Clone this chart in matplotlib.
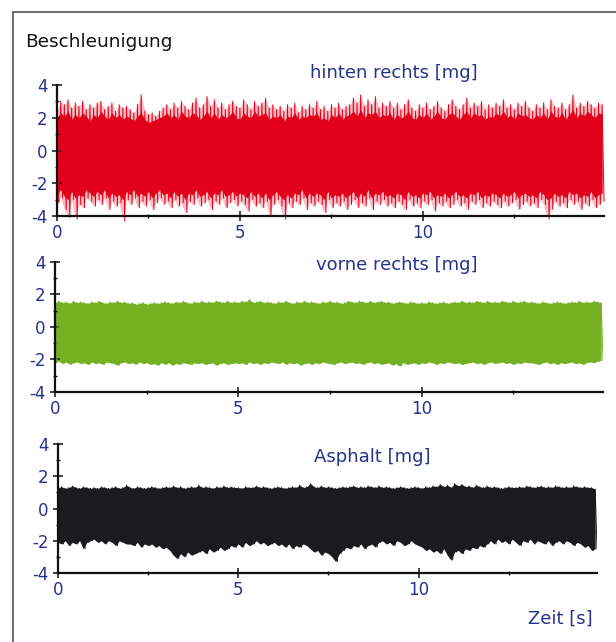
import numpy as np
import matplotlib
matplotlib.use("Agg")
import matplotlib.pyplot as plt
from matplotlib.lines import Line2D

plt.rcParams["axes.unicode_minus"] = False
plt.rcParams["font.family"] = ["DejaVu Sans"]

# ---------------- data (envelopes every 0.1 s) ----------------
DT = 0.1
red_hi = [2.4, 3.0, 2.8, 3.1, 2.6, 2.9, 2.7, 3.0, 2.5, 2.8,
          2.6, 2.9, 3.0, 2.5, 2.7, 2.9, 2.4, 2.8, 2.6, 2.7,
          2.5, 2.3, 2.8, 3.4, 2.4, 2.2, 2.3, 2.1, 2.4, 2.6,
          2.8, 2.5, 2.9, 2.6, 3.0, 2.7, 2.5, 2.9, 3.2, 2.6,
          2.8, 3.3, 2.7, 3.1, 2.6, 2.9, 2.5, 2.8, 3.0, 2.7,
          2.6, 3.1, 2.8, 2.5, 3.0, 2.7, 2.9, 3.2, 2.6, 2.8,
          2.5, 2.7, 2.4, 2.8, 2.6, 2.9, 2.3, 2.7, 2.5, 2.8,
          2.6, 3.0, 2.5, 2.7, 2.4, 2.8, 2.6, 2.9, 2.5, 2.7,
          2.8, 3.2, 2.9, 3.4, 2.7, 3.1, 2.8, 3.3, 2.6, 2.9,
          2.7, 3.0, 2.6, 2.9, 2.5, 2.8, 3.1, 2.6, 2.4, 2.8,
          2.6, 2.9, 2.5, 2.7, 3.0, 2.6, 2.4, 2.8, 3.1, 2.7,
          2.5, 2.8, 3.2, 2.6, 2.9, 2.7, 3.0, 2.5, 2.8, 2.6,
          2.9, 2.7, 3.1, 2.6, 2.8, 2.5, 2.9, 2.7, 3.0, 2.6,
          2.4, 2.8, 2.6, 2.9, 2.5, 3.1, 2.7, 2.6, 2.9, 2.5,
          2.8, 3.4, 2.6, 2.9, 2.7, 3.0, 2.8, 2.6, 2.9, 2.8]
red_lo = [-3.2, -2.9, -3.6, -4.1, -3.0, -4.2, -3.3, -3.5, -2.9, -3.1,
          -3.4, -3.0, -3.3, -2.9, -3.6, -3.1, -3.4, -3.2, -4.3, -3.0,
          -3.3, -2.9, -3.5, -3.1, -3.4, -3.0, -3.6, -3.2, -2.9, -3.3,
          -3.1, -3.5, -3.0, -3.4, -3.2, -3.8, -3.1, -3.3, -2.9, -3.4,
          -3.2, -3.0, -3.6, -3.1, -3.3, -2.9, -3.5, -3.2, -3.0, -3.4,
          -3.1, -3.3, -3.7, -3.0, -3.4, -3.2, -3.5, -3.1, -4.0, -3.3,
          -3.0, -3.4, -4.2, -3.2, -3.5, -3.1, -3.3, -2.9, -3.6, -3.2,
          -3.4, -3.1, -3.3, -3.8, -3.0, -3.5, -3.2, -3.4, -3.1, -3.6,
          -3.3, -3.0, -3.5, -3.2, -3.4, -2.9, -3.6, -3.1, -3.3, -3.0,
          -3.4, -3.2, -3.5, -3.1, -3.3, -3.6, -3.0, -3.4, -3.2, -3.5,
          -3.1, -3.3, -3.0, -3.7, -3.2, -3.4, -3.1, -3.5, -3.3, -3.0,
          -3.4, -3.2, -3.6, -3.1, -3.3, -3.0, -3.5, -3.2, -3.4, -3.1,
          -3.3, -3.5, -3.1, -3.4, -3.2, -3.0, -3.6, -3.3, -3.1, -3.4,
          -3.2, -3.5, -3.0, -3.3, -4.2, -3.6, -3.1, -3.4, -3.2, -3.5,
          -3.0, -3.3, -3.1, -3.6, -3.2, -3.4, -3.0, -3.5, -3.3, -3.1]
# dense (fully red) core of the red signal
red_core_hi = [2.0, 2.3, 2.1, 2.4, 1.9, 2.2, 2.0, 2.3, 2.1, 1.8,
               2.2, 2.0, 2.4, 2.1, 1.9, 2.3, 2.0, 2.2, 1.9, 2.1,
               2.0, 1.8, 2.1, 2.3, 1.9, 1.7, 1.8, 1.9, 2.0, 2.1,
               2.3, 2.0, 2.2, 1.9, 2.4, 2.1, 2.0, 2.3, 2.2, 1.9,
               2.1, 2.4, 2.0, 2.3, 1.9, 2.2, 2.0, 2.1, 2.4, 2.0,
               1.9, 2.3, 2.1, 2.0, 2.4, 2.1, 2.2, 2.3, 1.9, 2.1,
               2.0, 2.2, 1.8, 2.1, 2.0, 2.3, 1.9, 2.1, 2.0, 2.2,
               2.1, 2.3, 1.9, 2.0, 1.8, 2.2, 2.0, 2.3, 1.9, 2.1,
               2.2, 2.4, 2.1, 2.5, 2.0, 2.3, 2.2, 2.4, 2.0, 2.2,
               2.1, 2.3, 1.9, 2.2, 2.0, 2.1, 2.4, 2.0, 1.9, 2.2,
               2.0, 2.3, 1.9, 2.1, 2.4, 2.0, 1.9, 2.2, 2.3, 2.1,
               1.9, 2.2, 2.4, 2.0, 2.3, 2.1, 2.2, 1.9, 2.1, 2.0,
               2.3, 2.1, 2.4, 2.0, 2.2, 1.9, 2.3, 2.1, 2.2, 2.0,
               1.9, 2.2, 2.0, 2.3, 1.9, 2.4, 2.1, 2.0, 2.3, 1.9,
               2.2, 2.5, 2.0, 2.3, 2.1, 2.4, 2.2, 2.0, 2.3, 2.2]
red_core_lo = [-2.6, -2.4, -2.8, -3.0, -2.5, -2.9, -2.7, -2.8, -2.4, -2.6,
               -2.8, -2.5, -2.7, -2.4, -2.9, -2.6, -2.8, -2.7, -3.0, -2.5,
               -2.7, -2.4, -2.8, -2.6, -2.8, -2.5, -2.9, -2.6, -2.4, -2.7,
               -2.6, -2.9, -2.5, -2.8, -2.6, -3.0, -2.6, -2.7, -2.4, -2.8,
               -2.7, -2.5, -2.9, -2.6, -2.7, -2.4, -2.8, -2.7, -2.5, -2.8,
               -2.6, -2.7, -2.9, -2.5, -2.8, -2.6, -2.9, -2.6, -3.0, -2.7,
               -2.5, -2.8, -3.0, -2.7, -2.9, -2.6, -2.7, -2.4, -2.9, -2.6,
               -2.8, -2.6, -2.7, -3.0, -2.5, -2.9, -2.7, -2.8, -2.6, -2.9,
               -2.7, -2.5, -2.9, -2.6, -2.8, -2.4, -2.9, -2.6, -2.7, -2.5,
               -2.8, -2.7, -2.9, -2.6, -2.7, -3.0, -2.5, -2.8, -2.7, -2.9,
               -2.6, -2.7, -2.5, -2.9, -2.7, -2.8, -2.6, -2.9, -2.7, -2.5,
               -2.8, -2.7, -2.9, -2.6, -2.7, -2.5, -2.9, -2.7, -2.8, -2.6,
               -2.7, -2.9, -2.6, -2.8, -2.7, -2.5, -2.9, -2.7, -2.6, -2.8,
               -2.7, -2.9, -2.5, -2.7, -3.0, -2.9, -2.6, -2.8, -2.7, -2.9,
               -2.5, -2.7, -2.6, -2.9, -2.7, -2.8, -2.5, -2.9, -2.7, -2.6]

green_hi = [1.5, 1.6, 1.5, 1.55, 1.45, 1.6, 1.5, 1.55, 1.5, 1.45,
            1.55, 1.5, 1.6, 1.5, 1.45, 1.55, 1.5, 1.6, 1.5, 1.55,
            1.45, 1.5, 1.4, 1.45, 1.5, 1.4, 1.45, 1.5, 1.45, 1.5,
            1.55, 1.5, 1.45, 1.55, 1.5, 1.6, 1.5, 1.45, 1.55, 1.5,
            1.6, 1.5, 1.55, 1.5, 1.6, 1.55, 1.5, 1.6, 1.5, 1.55,
            1.5, 1.6, 1.55, 1.7, 1.5, 1.55, 1.6, 1.5, 1.55, 1.5,
            1.45, 1.55, 1.5, 1.6, 1.5, 1.45, 1.55, 1.5, 1.6, 1.5,
            1.55, 1.5, 1.45, 1.55, 1.5, 1.6, 1.5, 1.55, 1.45, 1.5,
            1.6, 1.55, 1.5, 1.6, 1.55, 1.5, 1.6, 1.5, 1.55, 1.6,
            1.5, 1.55, 1.45, 1.5, 1.55, 1.5, 1.45, 1.55, 1.5, 1.45,
            1.5, 1.45, 1.55, 1.5, 1.45, 1.5, 1.55, 1.45, 1.5, 1.55,
            1.5, 1.6, 1.5, 1.55, 1.5, 1.6, 1.55, 1.5, 1.6, 1.5,
            1.55, 1.5, 1.6, 1.55, 1.5, 1.6, 1.5, 1.55, 1.6, 1.5,
            1.55, 1.5, 1.45, 1.55, 1.5, 1.45, 1.5, 1.55, 1.5, 1.45,
            1.5, 1.55, 1.5, 1.6, 1.5, 1.55, 1.5, 1.6, 1.55, 1.5]
green_lo = [-2.2, -2.1, -2.25, -2.15, -2.3, -2.2, -2.15, -2.25, -2.2, -2.3,
            -2.15, -2.25, -2.2, -2.3, -2.15, -2.2, -2.25, -2.35, -2.2, -2.15,
            -2.25, -2.2, -2.3, -2.15, -2.25, -2.2, -2.3, -2.25, -2.35, -2.2,
            -2.3, -2.2, -2.35, -2.25, -2.3, -2.2, -2.25, -2.3, -2.2, -2.25,
            -2.2, -2.3, -2.25, -2.2, -2.35, -2.25, -2.2, -2.3, -2.25, -2.2,
            -2.25, -2.2, -2.3, -2.15, -2.25, -2.2, -2.3, -2.2, -2.25, -2.15,
            -2.2, -2.25, -2.15, -2.3, -2.2, -2.25, -2.2, -2.35, -2.25, -2.2,
            -2.3, -2.2, -2.25, -2.15, -2.2, -2.25, -2.3, -2.2, -2.15, -2.25,
            -2.2, -2.15, -2.25, -2.2, -2.3, -2.2, -2.15, -2.25, -2.2, -2.3,
            -2.25, -2.2, -2.35, -2.25, -2.4, -2.2, -2.3, -2.25, -2.2, -2.3,
            -2.2, -2.25, -2.15, -2.2, -2.3, -2.2, -2.25, -2.15, -2.2, -2.25,
            -2.2, -2.3, -2.25, -2.2, -2.15, -2.25, -2.2, -2.3, -2.2, -2.15,
            -2.25, -2.2, -2.15, -2.25, -2.2, -2.3, -2.2, -2.25, -2.15, -2.2,
            -2.2, -2.25, -2.3, -2.2, -2.15, -2.25, -2.2, -2.3, -2.2, -2.25,
            -2.2, -2.15, -2.25, -2.2, -2.3, -2.2, -2.15, -2.2, -2.1, -2.05]

black_hi = [1.3, 1.35, 1.25, 1.3, 1.4, 1.3, 1.25, 1.35, 1.3, 1.25,
            1.3, 1.25, 1.35, 1.3, 1.25, 1.3, 1.35, 1.25, 1.3, 1.45,
            1.3, 1.25, 1.35, 1.3, 1.25, 1.3, 1.35, 1.3, 1.25, 1.3,
            1.35, 1.3, 1.4, 1.3, 1.35, 1.25, 1.3, 1.35, 1.3, 1.45,
            1.3, 1.35, 1.3, 1.25, 1.35, 1.3, 1.4, 1.3, 1.35, 1.3,
            1.3, 1.25, 1.35, 1.3, 1.3, 1.4, 1.3, 1.35, 1.3, 1.25,
            1.3, 1.35, 1.3, 1.25, 1.3, 1.35, 1.3, 1.45, 1.3, 1.35,
            1.55, 1.35, 1.3, 1.4, 1.3, 1.35, 1.3, 1.25, 1.3, 1.35,
            1.3, 1.35, 1.4, 1.3, 1.35, 1.3, 1.4, 1.35, 1.3, 1.4,
            1.3, 1.35, 1.3, 1.25, 1.3, 1.35, 1.3, 1.25, 1.3, 1.35,
            1.3, 1.25, 1.35, 1.3, 1.4, 1.35, 1.5, 1.35, 1.45, 1.3,
            1.55, 1.4, 1.5, 1.35, 1.4, 1.3, 1.45, 1.35, 1.3, 1.4,
            1.3, 1.35, 1.3, 1.25, 1.3, 1.35, 1.3, 1.3, 1.35, 1.3,
            1.4, 1.35, 1.3, 1.35, 1.4, 1.3, 1.35, 1.3, 1.4, 1.35,
            1.3, 1.35, 1.3, 1.4, 1.35, 1.3, 1.35, 1.3, 1.3, 1.2]
black_lo = [-2.1, -2.2, -2.0, -2.3, -2.1, -2.2, -2.0, -2.5, -2.1, -2.0,
            -1.9, -2.1, -2.0, -2.2, -2.0, -2.1, -2.3, -2.0, -2.1, -2.2,
            -2.2, -2.3, -2.1, -2.4, -2.2, -2.3, -2.2, -2.4, -2.3, -2.5,
            -2.4, -2.6, -2.9, -3.1, -2.8, -3.0, -2.7, -2.9, -2.8, -2.7,
            -2.6, -2.8, -2.5, -2.7, -2.6, -2.4, -2.6, -2.5, -2.3, -2.4,
            -2.2, -2.4, -2.1, -2.3, -2.2, -2.0, -2.2, -2.1, -2.3, -2.2,
            -2.1, -2.3, -2.2, -2.4, -2.2, -2.5, -2.3, -2.4, -2.2, -2.3,
            -2.5, -2.7, -2.6, -2.9, -2.7, -2.8, -3.0, -3.3, -2.8, -2.6,
            -2.4, -2.5, -2.3, -2.4, -2.2, -2.5, -2.3, -2.2, -2.4, -2.1,
            -2.0, -2.2, -2.1, -2.3, -2.0, -2.1, -2.3, -2.2, -2.0, -2.2,
            -2.3, -2.4, -2.6, -2.5, -2.7, -2.6, -2.8, -2.5, -2.9, -3.2,
            -2.7, -2.6, -2.8, -2.5, -2.6, -2.4, -2.5, -2.3, -2.4, -2.2,
            -2.0, -2.2, -1.9, -2.1, -2.0, -2.2, -1.9, -2.1, -2.3, -2.0,
            -2.1, -1.9, -2.2, -2.0, -2.1, -2.2, -2.0, -2.3, -2.1, -2.0,
            -2.2, -2.0, -2.1, -2.3, -2.1, -2.2, -2.4, -2.3, -2.6, -2.5]

titles = ["hinten rechts [mg]", "vorne rechts [mg]", "Asphalt [mg]"]
y_ticks = [-4, -2, 0, 2, 4]
y_minor = [-3, -1, 1, 3]
x_ticks = [0, 5, 10]
x_minor = [2.5, 7.5, 12.5]
X_MAX = 14.95

# ---------------- style ----------------
RED = "#e2001a"
GREEN = "#74b021"
BLACK = "#1b1a1e"
NAVY = "#26338a"
W, H = 616, 642

fig = plt.figure(figsize=(W / 100, H / 100), dpi=100)
fig.patch.set_facecolor("white")


def px_axes(left, right, top, bottom):
    return fig.add_axes([left / W, 1 - bottom / H, (right - left) / W, (bottom - top) / H])


def zigzag(times, hi, lo, half):
    """Interleave the envelope samples into one up/down trace."""
    xs = np.empty(2 * len(times))
    ys = np.empty(2 * len(times))
    xs[0::2] = times
    xs[1::2] = np.asarray(times) + half
    ys[0::2] = hi
    ys[1::2] = lo
    return xs, ys


boxes = [(57, 604, 85, 216), (55, 603, 262, 392), (58, 597, 444, 573)]
t = np.arange(len(red_hi)) * DT

axes = [px_axes(*b) for b in boxes]

# panel 1: red
ax = axes[0]
ax.fill_between(t, red_lo, red_hi, color=RED, alpha=0.25, lw=0)
ax.fill_between(t, red_core_lo, red_core_hi, color=RED, lw=0)
zx, zy = zigzag(t, red_hi, red_lo, DT / 2)
ax.plot(zx, zy, color=RED, lw=0.7, clip_on=False)

# panel 2: green
ax = axes[1]
ax.fill_between(t, green_lo, green_hi, color=GREEN, lw=0)
zx, zy = zigzag(t, green_hi, green_lo, DT / 2)
ax.plot(zx, zy, color=GREEN, lw=0.7)

# panel 3: black
ax = axes[2]
ax.fill_between(t, black_lo, black_hi, color=BLACK, lw=0)
zx, zy = zigzag(t, black_hi, black_lo, DT / 2)
ax.plot(zx, zy, color=BLACK, lw=0.7)

for ax in axes:
    ax.set_xlim(0, X_MAX)
    ax.set_ylim(-4, 4)
    ax.set_facecolor("none")
    for s in ["top", "right"]:
        ax.spines[s].set_visible(False)
    for s in ["left", "bottom"]:
        ax.spines[s].set_linewidth(1.6)
        ax.spines[s].set_color("#111111")
        ax.spines[s].set_zorder(5)
    ax.set_yticks(y_ticks)
    ax.set_yticks(y_minor, minor=True)
    ax.set_xticks(x_ticks)
    ax.set_xticks(x_minor, minor=True)
    ax.set_yticklabels([str(v) for v in y_ticks])
    ax.set_xticklabels([str(v) for v in x_ticks])
    ax.tick_params(axis="both", which="major", direction="inout", length=7.5, width=1.1,
                   color="#111111", labelcolor=NAVY, labelsize=12)
    ax.tick_params(axis="y", which="major", pad=3)
    ax.tick_params(axis="x", which="major", pad=2, length=7)
    ax.tick_params(axis="both", which="minor", direction="inout", length=3, width=1.0,
                   color="#111111")

# titles
fig.text(478 / W, 1 - 78.5 / H, titles[0], ha="right", va="baseline", color=NAVY, fontsize=13)
fig.text(478 / W, 1 - 269.5 / H, titles[1], ha="right", va="baseline", color=NAVY, fontsize=13)
fig.text(430 / W, 1 - 461.5 / H, titles[2], ha="right", va="baseline", color=NAVY, fontsize=13)
fig.text(25 / W, 1 - 47 / H, "Beschleunigung", ha="left", va="baseline", color="#111111", fontsize=13.3)
fig.text(593 / W, 1 - 624 / H, "Zeit [s]", ha="right", va="baseline", color=NAVY, fontsize=13)

# outer frame (left and top edges visible)
fig.add_artist(Line2D([13 / W, 13 / W], [0, 1 - 12 / H], transform=fig.transFigure,
                      color="#606060", lw=1.3))
fig.add_artist(Line2D([13 / W, 1], [1 - 12 / H, 1 - 12 / H], transform=fig.transFigure,
                      color="#606060", lw=1.3))

fig.savefig("out.png", dpi=100)
